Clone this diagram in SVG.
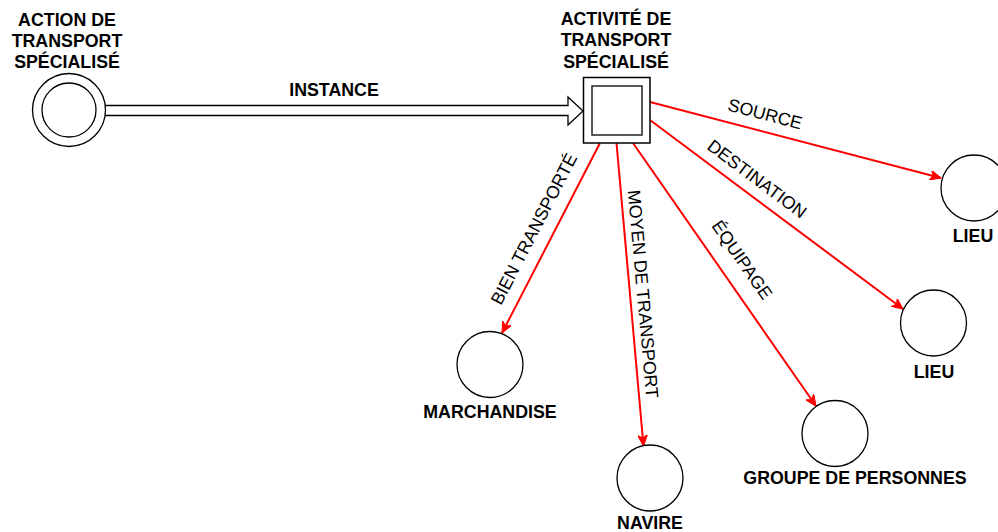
<svg xmlns="http://www.w3.org/2000/svg" width="998" height="532" viewBox="0 0 998 532">
<style>
  .node { fill: #fff; stroke: #000; stroke-width: 1.3; }
  .title { font-family: "Liberation Sans", Arial, sans-serif; font-size: 17.8px; font-weight: bold; fill: #000; text-anchor: middle; }
  .lbl { font-family: "Liberation Sans", Arial, sans-serif; font-size: 17.8px; fill: #000; text-anchor: middle; }
  .rel { stroke: #ff0000; stroke-width: 2; fill: none; marker-end: url(#ah); }
</style>
<defs>
  <marker id="ah" markerWidth="12" markerHeight="10" viewBox="0 0 12 10" refX="11" refY="5" orient="auto" markerUnits="userSpaceOnUse">
    <path d="M0,0 L11,5 L0,10 L3,5 Z" fill="#ff0000" stroke="#ff0000" stroke-width="1"/>
  </marker>
</defs>
<rect width="998" height="532" fill="#fff"/>

<g id="connectors">
  <g id="instance">
    <polygon points="104,105.5 568,105.5 568,97 583,111 568,125 568,115.5 104,115.5" fill="#fff" stroke="#000" stroke-width="1.3"/>
    <text class="title" x="334" y="96">INSTANCE</text>
  </g>
  <g id="source">
    <line class="rel" x1="650" y1="102" x2="941" y2="178"/>
    <text class="lbl" transform="translate(765,114) rotate(14.6)" y="6">SOURCE</text>
  </g>
  <g id="destination">
    <line class="rel" x1="650" y1="120" x2="903" y2="309"/>
    <text class="lbl" transform="translate(757,179) rotate(36.8)" y="6">DESTINATION</text>
  </g>
  <g id="equipage">
    <line class="rel" x1="633" y1="143" x2="816" y2="406"/>
    <text class="lbl" transform="translate(742,260) rotate(55.2)" y="6">ÉQUIPAGE</text>
  </g>
  <g id="moyen">
    <line class="rel" x1="616.5" y1="143" x2="643.5" y2="446"/>
    <text class="lbl" transform="translate(643,294) rotate(84.9)" y="6">MOYEN DE TRANSPORT</text>
  </g>
  <g id="bien">
    <line class="rel" x1="600" y1="143" x2="502" y2="333"/>
    <text class="lbl" transform="translate(534,229) rotate(-62.7)" y="6">BIEN TRANSPORTÉ</text>
  </g>
</g>

<g id="action">
  <circle class="node" cx="69" cy="110" r="36.5"/>
  <circle class="node" cx="69" cy="110" r="27"/>
  <text class="title" x="67" y="26">ACTION DE</text>
  <text class="title" x="67" y="47">TRANSPORT</text>
  <text class="title" x="67" y="68">SPÉCIALISÉ</text>
</g>

<g id="activite">
  <rect x="583.5" y="77.5" width="66.5" height="65.5" fill="#fff" stroke="#000" stroke-width="1.5"/>
  <rect x="592" y="86" width="50" height="49" fill="#fff" stroke="#222" stroke-width="1.5"/>
  <text class="title" x="616" y="25">ACTIVITÉ DE</text>
  <text class="title" x="616" y="46">TRANSPORT</text>
  <text class="title" x="616" y="67.5">SPÉCIALISÉ</text>
</g>

<g id="lieu1">
  <circle class="node" cx="974" cy="188" r="33"/>
  <text class="title" x="973" y="242">LIEU</text>
</g>

<g id="lieu2">
  <circle class="node" cx="933.5" cy="323" r="33"/>
  <text class="title" x="934" y="378">LIEU</text>
</g>

<g id="groupe">
  <circle class="node" cx="835" cy="433.5" r="33"/>
  <text class="title" x="855" y="484">GROUPE DE PERSONNES</text>
</g>

<g id="navire">
  <circle class="node" cx="650" cy="478" r="33"/>
  <text class="title" x="650" y="529">NAVIRE</text>
</g>

<g id="marchandise">
  <circle class="node" cx="490" cy="364.5" r="33"/>
  <text class="title" x="490" y="418">MARCHANDISE</text>
</g>
</svg>
